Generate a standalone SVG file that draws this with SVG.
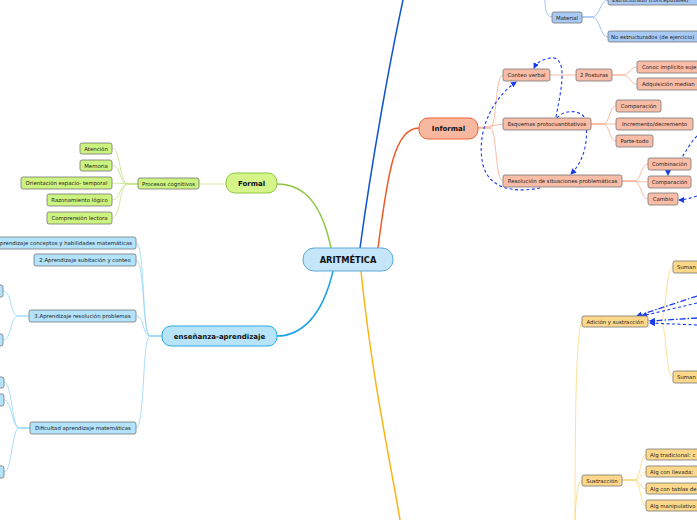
<svg xmlns="http://www.w3.org/2000/svg" width="697" height="520" viewBox="0 0 697 520">
<style>
.t{font-family:"DejaVu Sans",Verdana,sans-serif;font-size:5.4px;fill:#222;text-anchor:middle}
.tl{font-family:"DejaVu Sans",Verdana,sans-serif;font-size:5.4px;fill:#222}
.b{font-family:"DejaVu Sans",Verdana,sans-serif;font-weight:bold;fill:#111;text-anchor:middle}
.n{stroke:#777;stroke-width:0.8}
.g{fill:#ccf27f}.bl{fill:#b3e3fa}.s{fill:#f9bca6}.m{fill:#a9c9f5}.y{fill:#fdd88a}
.c{fill:none}
.dash{fill:none;stroke:#1a3cf0;stroke-width:1.1;stroke-dasharray:3,2.5}
.dd{fill:none;stroke:#1a3cf0;stroke-width:1.3;stroke-dasharray:6,2,1.5,2}
</style>
<defs>
<marker id="ah" markerWidth="6" markerHeight="6" refX="5" refY="3" orient="auto" markerUnits="userSpaceOnUse">
<path d="M0,0 L6,3 L0,6 z" fill="#1a3cf0"/>
</marker>
</defs>
<g id="connectors">
<path class="c" d="M331,248 C322,205 305,184 277,184" stroke="#8cc63f" stroke-width="1.5"/>
<path class="c" d="M333,271 C322,318 300,336 277,336" stroke="#1aa0e6" stroke-width="1.5"/>
<path class="c" d="M378,248 C388,170 395,128 419,128" stroke="#f05a28" stroke-width="1.5"/>
<path class="c" d="M360,248 C372,160 390,60 403,0" stroke="#1155cc" stroke-width="1.5"/>
<path class="c" d="M361,271 C372,380 392,470 400,520" stroke="#fbb416" stroke-width="1.5"/>
<g stroke="#c6e28a" stroke-width="0.8" fill="none">
<path d="M226,184 L199,184"/>
<path d="M138,184 L128,184 C119,184 121,148 112,148"/>
<path d="M138,184 L128,184 C119,184 121,165 112,165"/>
<path d="M138,184 L112,183"/>
<path d="M138,184 L128,184 C119,184 121,200 112,200"/>
<path d="M138,184 L128,184 C119,184 121,218 112,218"/>
</g>
<g stroke="#92d6f6" stroke-width="0.8" fill="none">
<path d="M162,336 L150,336 C142,336 145,243 136,243"/>
<path d="M162,336 L150,336 C142,336 145,260 136,260"/>
<path d="M162,336 L150,336 C142,336 145,316 136,316"/>
<path d="M162,336 L150,336 C142,336 145,428 136,428"/>
<path d="M29,316 L18,316 C10,316 12,291 3,291"/>
<path d="M29,316 L18,316 C10,316 12,340 3,340"/>
<path d="M30,428 L19,428 C12,428 12,382 4,382"/>
<path d="M30,428 L19,428 C12,428 12,400 4,400"/>
<path d="M30,428 L19,428 C12,428 12,472 4,472"/>
</g>
<g stroke="#f7a98a" stroke-width="0.8" fill="none">
<path d="M478,128 L490,128 C497,128 495,75 503,75"/>
<path d="M478,128 L503,124"/>
<path d="M478,128 L490,128 C497,128 495,181 503,181"/>
<path d="M550,75 L576,75"/>
<path d="M612,75 L622,75 C630,75 630,67 637,67"/>
<path d="M612,75 L622,75 C630,75 630,84 637,84"/>
<path d="M591,124 L603,124 C610,124 609,106 616,106"/>
<path d="M591,124 L616,124"/>
<path d="M591,124 L603,124 C610,124 609,141 616,141"/>
<path d="M622,181 L634,181 C641,181 641,164 648,164"/>
<path d="M622,181 L648,182"/>
<path d="M622,181 L634,181 C641,181 641,199 648,199"/>
</g>
<g stroke="#8cb4ec" stroke-width="0.8" fill="none">
<path d="M545,0 C545,8 546,17 552,17"/>
<path d="M582,17 L592,17 C600,17 600,0 608,0"/>
<path d="M582,17 L592,17 C600,17 600,37 608,37"/>
</g>
<g stroke="#fdd77e" stroke-width="0.8" fill="none">
<path d="M575,520 C575,420 576,330 582,322"/>
<path d="M575,520 C576,500 577,481 582,481"/>
<path d="M648,321 L660,321 C667,321 665,267 673,267"/>
<path d="M648,321 L660,321 C667,321 665,377 673,377"/>
<path d="M622,480 L634,480 C641,480 640,455 646,455"/>
<path d="M622,480 L634,480 C641,480 640,472 646,472"/>
<path d="M622,480 L634,480 C641,480 640,489 646,489"/>
<path d="M622,480 L634,480 C641,480 640,506 646,506"/>
</g>
<path class="dash" d="M540,188 C520,192 490,192 483,165 C476,135 490,100 516,82" marker-end="url(#ah)"/>
<path class="dash" d="M556,117 C560,95 570,55 550,58 C540,60 536,64 534,68" marker-end="url(#ah)"/>
<path class="dash" d="M557,118 C565,108 585,110 586,122 C588,140 585,160 571,174" marker-end="url(#ah)"/>
<path class="dash" d="M697,136 C688,145 685,155 678,162 C672,166 668,168 668,175" marker-end="url(#ah)"/>
<path class="dash" d="M697,196 C690,198 685,200 679,200" marker-end="url(#ah)"/>
<path class="dd" d="M697,296 L637,316" marker-end="url(#ah)"/>
<path class="dash" d="M697,303 L642,316" marker-end="url(#ah)"/>
<path class="dd" d="M697,318 L650,321" marker-end="url(#ah)"/>
<path class="dash" d="M697,325 L650,323" marker-end="url(#ah)"/>
</g>
<g id="aritmetica">
<rect x="303" y="248" width="90" height="23" rx="11" fill="#c5e6f8" stroke="#5aa9d8" stroke-width="1"/>
<text class="b" x="348" y="263" font-size="8.3">ARITMÉTICA</text>
</g>
<g id="formal">
<rect x="226" y="173" width="51" height="20" rx="9" fill="#d5f58a" stroke="#8cc63f" stroke-width="1"/>
<text class="b" x="251.5" y="186" font-size="7">Formal</text>
</g>
<g id="ensenanza">
<rect x="162" y="326" width="115" height="20" rx="9" fill="#b7e4f9" stroke="#29a8e0" stroke-width="1"/>
<text class="b" x="219.5" y="338.5" font-size="7">enseñanza-aprendizaje</text>
</g>
<g id="informal">
<rect x="419" y="118" width="59" height="21" rx="9" fill="#f8b8a0" stroke="#f06030" stroke-width="1"/>
<text class="b" x="448.5" y="131" font-size="7">Informal</text>
</g>
<g id="procesos"><rect class="n g" x="138" y="178" width="61" height="11" rx="2"/><text class="t" x="168.5" y="185.5">Procesos cognitivos</text></g>
<g id="atencion"><rect class="n g" x="80" y="143" width="32" height="11" rx="2"/><text class="t" x="96" y="150.5">Atención</text></g>
<g id="memoria"><rect class="n g" x="80" y="160" width="32" height="11" rx="2"/><text class="t" x="96" y="167.5">Memoria</text></g>
<g id="orientacion"><rect class="n g" x="21" y="177" width="91" height="12" rx="2"/><text class="t" x="66.5" y="185">Orientación espacio- temporal</text></g>
<g id="razonamiento"><rect class="n g" x="47" y="194" width="65" height="12" rx="2"/><text class="t" x="79.5" y="202">Razonamiento lógico</text></g>
<g id="comprension"><rect class="n g" x="47" y="212" width="65" height="12" rx="2"/><text class="t" x="79.5" y="220">Comprensión lectora</text></g>
<g id="apr1"><rect class="n bl" x="-40" y="237" width="176" height="12" rx="2"/><text class="tl" x="132" y="245" text-anchor="end">1.Aprendizaje conceptos y habilidades matemáticas</text></g>
<g id="apr2"><rect class="n bl" x="34" y="254" width="102" height="12" rx="2"/><text class="t" x="85" y="262">2.Aprendizaje subitación y conteo</text></g>
<g id="apr3"><rect class="n bl" x="29" y="310" width="107" height="12" rx="2"/><text class="t" x="82.5" y="318">3.Aprendizaje resolución problemas</text></g>
<g id="apr3a"><rect class="n bl" x="-40" y="285" width="43" height="12" rx="2"/></g>
<g id="apr3b"><rect class="n bl" x="-40" y="334" width="43" height="12" rx="2"/></g>
<g id="dificultad"><rect class="n bl" x="30" y="422" width="106" height="12" rx="2"/><text class="t" x="83" y="430">Dificultad aprendizaje matemáticas</text></g>
<g id="difa"><rect class="n bl" x="-40" y="377" width="44" height="11" rx="2"/></g>
<g id="difb"><rect class="n bl" x="-40" y="394" width="44" height="12" rx="2"/></g>
<g id="difc"><rect class="n bl" x="-40" y="466" width="44" height="12" rx="2"/></g>
<g id="material"><rect class="n m" x="552" y="12" width="30" height="11" rx="2"/><text class="t" x="567" y="19.5">Material</text></g>
<g id="estructurado"><rect class="n m" x="608" y="-6" width="100" height="11" rx="2"/><text class="tl" x="612" y="2">Estructurado (conceptuales)</text></g>
<g id="noestructurados"><rect class="n m" x="608" y="31" width="100" height="11" rx="2"/><text class="tl" x="611" y="38.5">No estructurados (de ejercicio)</text></g>
<g id="conteo"><rect class="n s" x="503" y="69" width="47" height="12" rx="2"/><text class="t" x="526.5" y="77">Conteo verbal</text></g>
<g id="posturas"><rect class="n s" x="576" y="69" width="36" height="12" rx="2"/><text class="t" x="594" y="77">2 Posturas</text></g>
<g id="conoc"><rect class="n s" x="637" y="61" width="70" height="12" rx="2"/><text class="tl" x="642" y="69">Conoc implícito suje</text></g>
<g id="adquisicion"><rect class="n s" x="637" y="78" width="70" height="12" rx="2"/><text class="tl" x="642" y="86">Adquisición median</text></g>
<g id="esquemas"><rect class="n s" x="503" y="118" width="88" height="12" rx="2"/><text class="t" x="547" y="126">Esquemas protocuantitativos</text></g>
<g id="comparacion1"><rect class="n s" x="616" y="100" width="45" height="12" rx="2"/><text class="t" x="638.5" y="108">Comparación</text></g>
<g id="incremento"><rect class="n s" x="616" y="118" width="77" height="12" rx="2"/><text class="t" x="654.5" y="126">Incremento/decremento</text></g>
<g id="partetodo"><rect class="n s" x="616" y="135" width="37" height="12" rx="2"/><text class="t" x="634.5" y="143">Parte-todo</text></g>
<g id="resolucion"><rect class="n s" x="503" y="175" width="119" height="12" rx="2"/><text class="t" x="562.5" y="183">Resolución de situaciones problemáticas</text></g>
<g id="combinacion"><rect class="n s" x="648" y="158" width="43" height="12" rx="2"/><text class="t" x="669.5" y="166">Combinación</text></g>
<g id="comparacion2"><rect class="n s" x="648" y="176" width="43" height="12" rx="2"/><text class="t" x="669.5" y="184">Comparación</text></g>
<g id="cambio"><rect class="n s" x="648" y="193" width="30" height="12" rx="2"/><text class="t" x="663" y="201">Cambio</text></g>
<g id="adicion"><rect class="n y" x="582" y="316" width="66" height="11" rx="2"/><text class="t" x="615" y="323.5">Adición y sustracción</text></g>
<g id="suman1"><rect class="n y" x="673" y="261" width="40" height="12" rx="2"/><text class="tl" x="677" y="269">Suman</text></g>
<g id="suman2"><rect class="n y" x="673" y="371" width="40" height="12" rx="2"/><text class="tl" x="677" y="379">Suman</text></g>
<g id="sustraccion"><rect class="n y" x="582" y="475" width="40" height="11" rx="2"/><text class="t" x="602" y="482.5">Sustracción</text></g>
<g id="algtrad"><rect class="n y" x="646" y="449" width="60" height="11" rx="2"/><text class="tl" x="650" y="456.5">Alg tradicional: c</text></g>
<g id="algllevada"><rect class="n y" x="646" y="466" width="60" height="11" rx="2"/><text class="tl" x="650" y="473.5">Alg con llevada:</text></g>
<g id="algtablas"><rect class="n y" x="646" y="483" width="60" height="11" rx="2"/><text class="tl" x="650" y="490.5">Alg con tablas de</text></g>
<g id="algmanip"><rect class="n y" x="646" y="500" width="60" height="11" rx="2"/><text class="tl" x="650" y="507.5">Alg manipulativo</text></g>
</svg>
